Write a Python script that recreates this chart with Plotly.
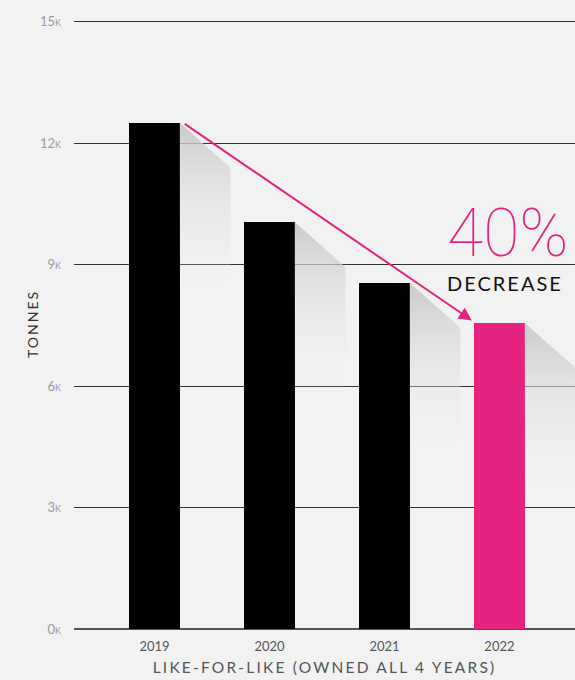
import plotly.graph_objects as go

years = ["2019", "2020", "2021", "2022"]
tonnes = [12500, 10050, 8550, 7560]
bar_colors = ["#000000", "#000000", "#000000", "#E3237F"]
y_tickvals = [0, 3000, 6000, 9000, 12000, 15000]
y_ticktext = ["0k", "3k", "6k", "9k", "12k", "15k"]

PINK = "#E3237F"
BAR_W = 0.44
xs = list(range(len(years)))

fig = go.Figure()

# soft shadows behind bars (derived from bar tops)
SH_W = 0.44      # shadow width in category units
SH_DIAG = 1110   # diagonal drop
SH_LEN = 4500    # shadow length
for x, v in zip(xs, tonnes):
    xr = x + BAR_W / 2
    px = [xr, xr + SH_W, xr + SH_W, xr, xr]
    py = [v, v - SH_DIAG, v - SH_LEN, v - SH_LEN, v]
    fig.add_trace(go.Scatter(
        x=px, y=py, mode="lines", fill="toself", line=dict(width=0),
        fillgradient=dict(type="vertical",
                          colorscale=[[0, "rgba(242,242,242,0)"],
                                      [0.55, "rgba(222,222,222,0.5)"],
                                      [1, "rgba(198,198,198,0.9)"]]),
        hoverinfo="skip", showlegend=False))

fig.add_trace(go.Bar(x=xs, y=tonnes, width=BAR_W, marker=dict(color=bar_colors, line=dict(width=0)),
                     showlegend=False))

fig.add_annotation(x=3 - BAR_W / 2 - 0.02, y=tonnes[3] + 60, ax=0 + BAR_W / 2 + 0.03, ay=tonnes[0],
                   xref="x", yref="y", axref="x", ayref="y", text="", showarrow=True,
                   arrowhead=2, arrowsize=1.3, arrowwidth=2, arrowcolor=PINK, standoff=0)

fig.add_annotation(x=3.07, y=9770, xref="x", yref="y", text="40%", showarrow=False,
                   font=dict(family="Roboto", size=66, color=PINK, weight=100),
                   xanchor="center", yanchor="middle")
fig.add_annotation(x=3.05, y=8540, xref="x", yref="y", text="DECREASE", showarrow=False,
                   font=dict(family="Lato", size=20, color="#111111"),
                   xanchor="center", yanchor="middle")

fig.add_annotation(x=0.5, y=0, xref="paper", yref="paper", yanchor="middle", yshift=-38,
                   text="LIKE-FOR-LIKE (OWNED ALL 4 YEARS)", showarrow=False,
                   font=dict(family="Lato", size=15.5, color="#555555"))
fig.add_annotation(x=0, y=0.5, xref="paper", yref="paper", xshift=-52, textangle=-90,
                   text="TONNES", showarrow=False,
                   font=dict(family="Lato", size=14, color="#333333"))

fig.update_layout(
    width=575, height=680,
    margin=dict(l=74, r=0, t=20, b=51),
    paper_bgcolor="#F2F2F2", plot_bgcolor="#F2F2F2",
    bargap=0,
    xaxis=dict(range=[-0.7, 3.657], tickvals=xs, ticktext=years, showgrid=False,
               zeroline=False, showline=False, ticks="", ticklabelstandoff=8,
               tickfont=dict(family="Lato", size=13, color="#555555")),
    yaxis=dict(range=[0, 15040], tickvals=y_tickvals, ticktext=y_ticktext,
               showgrid=True, gridcolor="#333333", gridwidth=1,
               zeroline=True, zerolinecolor="#555555", zerolinewidth=2,
               ticks="", ticklabelstandoff=12,
               tickfont=dict(family="Lato", size=13, color="#9A9A9A", variant="small-caps")),
)

post = """
document.body.style.margin='0';
var sp = {'DECREASE':'2px','LIKE-FOR-LIKE (OWNED ALL 4 YEARS)':'2.2px','TONNES':'2px'};
document.querySelectorAll('.annotation-text').forEach(function(t){
  var k = t.textContent; if (sp[k]) { t.style.letterSpacing = sp[k]; }
});
"""
fig.write_html("out.html", post_script=post, config={"displayModeBar": False})
